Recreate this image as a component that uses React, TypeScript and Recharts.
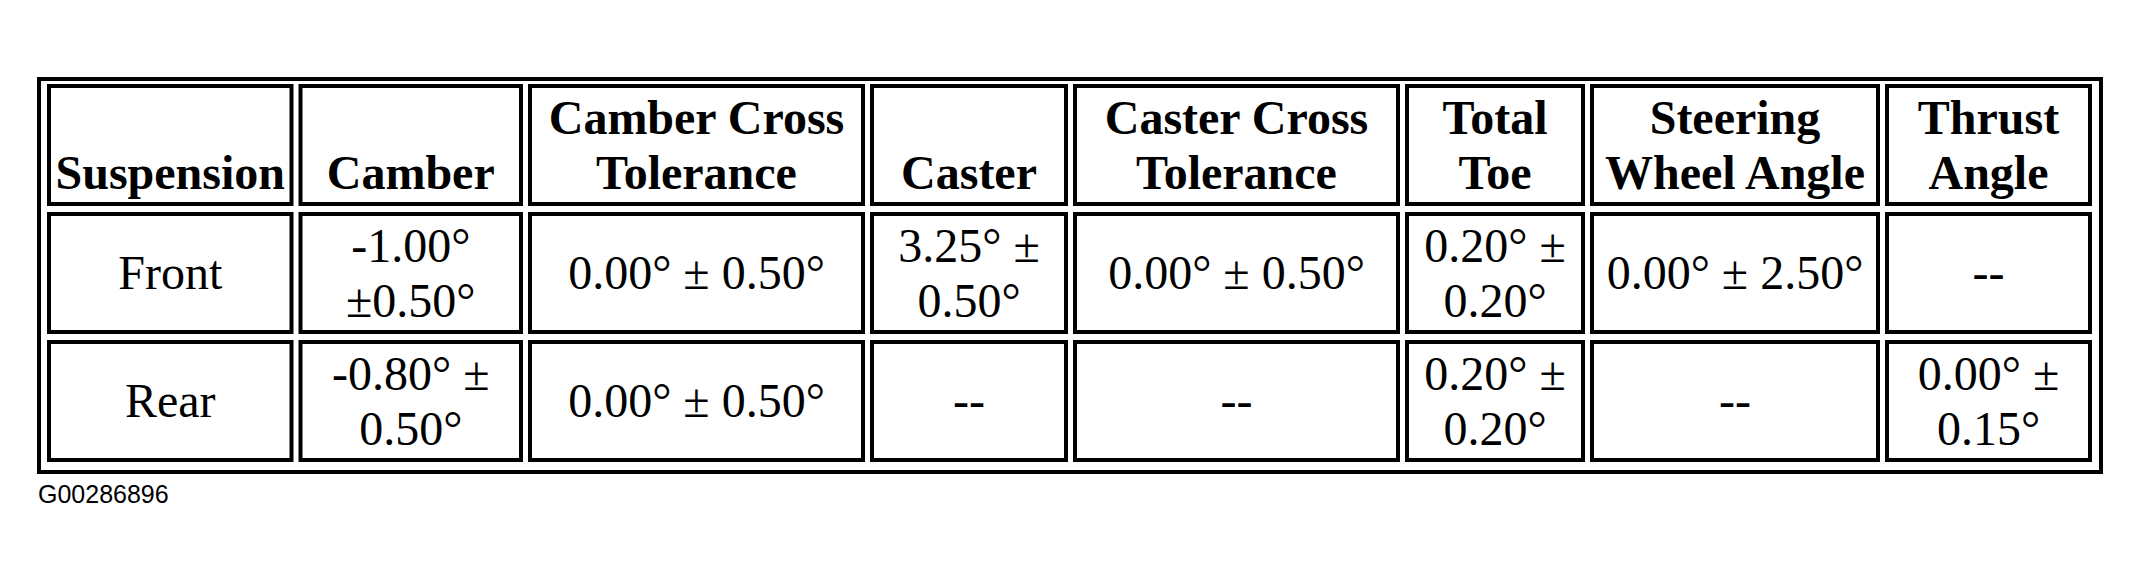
import { BarChart, Bar, XAxis, YAxis } from "recharts"

// table content
const headers = [
  "Suspension",
  "Camber",
  "Camber Cross\nTolerance",
  "Caster",
  "Caster Cross\nTolerance",
  "Total\nToe",
  "Steering\nWheel Angle",
  "Thrust\nAngle",
]
const rowLabels = ["Front", "Rear"]
const frontSpecs = ["-1.00°\n±0.50°", "0.00° ± 0.50°", "3.25° ±\n0.50°", "0.00° ± 0.50°", "0.20° ±\n0.20°", "0.00° ± 2.50°", "--"]
const rearSpecs = ["-0.80° ±\n0.50°", "0.00° ± 0.50°", "--", "--", "0.20° ±\n0.20°", "--", "0.00° ±\n0.15°"]
const specs = [frontSpecs, rearSpecs]
const figureCode = "G00286896"

// column slot widths in px (layout only)
const columnWidths = [251.5, 229.5, 342, 203, 332, 185, 295, 212]
const totalWidth = columnWidths.reduce((a, b) => a + b, 0)

const rows = ["header", ...rowLabels]
const tableData = rows.map((row) => {
  const d: Record<string, string | number> = { row }
  columnWidths.forEach((w, i) => {
    d[`c${i}`] = w / totalWidth
  })
  return d
})

const SERIF = "'Liberation Serif', 'Times New Roman', serif"

function cellText(rowIndex: number, colIndex: number) {
  if (rowIndex === 0) return headers[colIndex]
  if (colIndex === 0) return rowLabels[rowIndex - 1]
  return specs[rowIndex - 1][colIndex - 1]
}

function makeCell(colIndex: number) {
  return (props: any) => {
    const { x, y, width, height, payload } = props
    const rowIndex = rows.indexOf(payload?.row)
    const isHeader = rowIndex === 0
    const lines = cellText(rowIndex, colIndex).split("\n")
    const cx = x + width / 2
    const n = lines.length
    const baseline = (i: number) =>
      isHeader ? y + height - 20 - (n - 1 - i) * 55 : y + height / 2 + 16 + (i - (n - 1) / 2) * 55
    return (
      <g>
        <rect x={x + 4.5} y={y + 5} width={width - 9} height={height - 10} fill="#fff" stroke="#000" strokeWidth={4} />
        {lines.map((line, i) => (
          <text
            key={i}
            x={cx}
            y={baseline(i)}
            textAnchor="middle"
            fontFamily={SERIF}
            fontSize={48}
            fontWeight={isHeader ? 700 : 400}
            fill="#000"
          >
            {line}
          </text>
        ))}
      </g>
    )
  }
}

export default function App() {
  return (
    <div style={{ position: "relative", width: 2125, height: 562, background: "#fff" }}>
      <BarChart
        width={2125}
        height={562}
        data={tableData}
        layout="vertical"
        margin={{ top: 73, right: 38.5, bottom: 105, left: 36.5 }}
        barCategoryGap={0}
        barGap={0}
      >
        <XAxis type="number" domain={[0, 1]} hide />
        <YAxis type="category" dataKey="row" hide />
        {columnWidths.map((_, i) => (
          <Bar key={i} dataKey={`c${i}`} stackId="table" isAnimationActive={false} shape={makeCell(i)} />
        ))}
      </BarChart>
      <div
        style={{
          position: "absolute",
          left: 29,
          top: 69,
          width: 2066,
          height: 397,
          border: "4px solid #000",
          boxSizing: "border-box",
          pointerEvents: "none",
        }}
      />
      <div
        style={{
          position: "absolute",
          left: 30,
          top: 474,
          fontFamily: "'Liberation Sans', Arial, sans-serif",
          fontSize: 25,
          lineHeight: "25px",
          color: "#000",
        }}
      >
        {figureCode}
      </div>
    </div>
  )
}
